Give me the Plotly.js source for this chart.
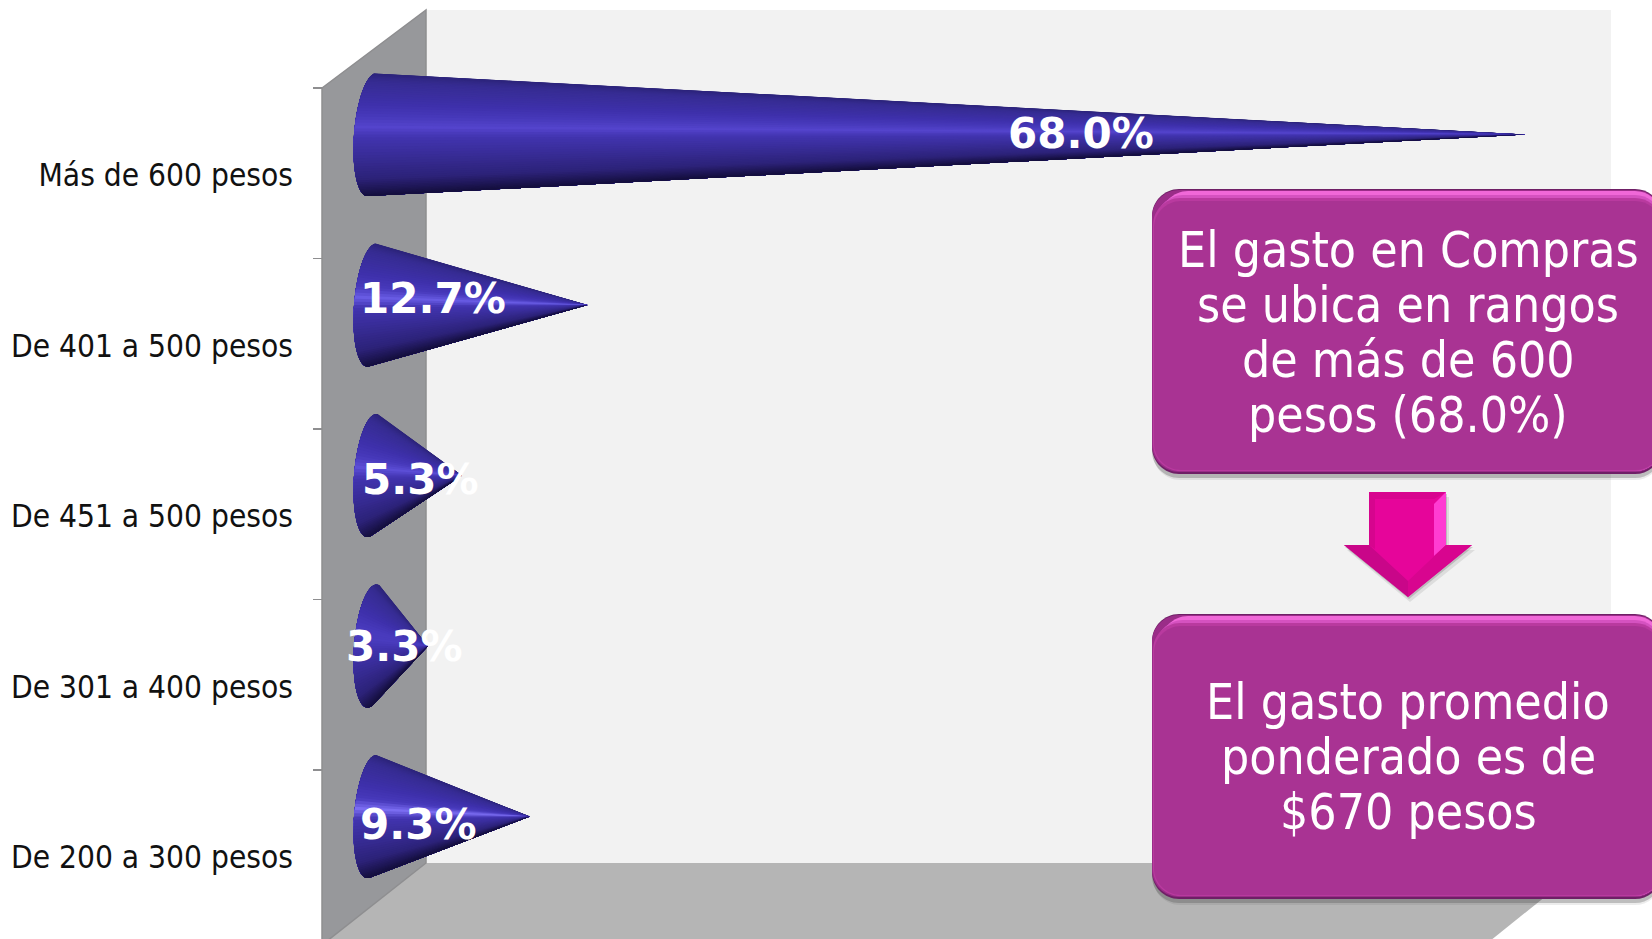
<!DOCTYPE html>
<html>
<head>
<meta charset="utf-8">
<script src="https://cdn.plot.ly/plotly-3.0.1.min.js"></script>
<style>html,body{margin:0;padding:0;background:#fff;overflow:hidden}#chart{width:1652px;height:939px}</style>
</head>
<body>
<div id="chart"></div>
<script>
// ---- data ----
const categories = ["Más de 600 pesos", "De 401 a 500 pesos", "De 451 a 500 pesos", "De 301 a 400 pesos", "De 200 a 300 pesos"];
const values = [68.0, 12.7, 5.3, 3.3, 9.3];
const valueLabels = ["68.0%", "12.7%", "5.3%", "3.3%", "9.3%"];
const box1Lines = ["El gasto en Compras", "se ubica en rangos", "de más de 600", "pesos (68.0%)"];
const box2Lines = ["El gasto promedio", "ponderado es de", "$670 pesos"];

// ---- layout helpers (page pixels) ----
const W = 1652, H = 939;
const px = x => x / W, py = y => 1 - y / H;
const X0 = 372, XK = 16.96;            // pixel of value 0, pixels per unit
const BAND = 170.5, FIRST = 173.25;    // category band size, centre of first band
const xRange = [(0 - X0) / XK, (W - X0) / XK];
const yRange = [(H - FIRST) / BAND, (0 - FIRST) / BAND];
const LABEL_DROP = 2 / BAND;           // tick labels sit slightly below the band centre

// cone look
const DEPTH = -0.227, HALF_H = 0.361;     // in category bands
const BASE_A = 18 / XK, BASE_TILT = 4.5 / XK; // in value units
const LAYERS = 64;
const conePeaks = [[84, 68, 204], [104, 92, 228], [92, 78, 214], [74, 60, 190], [124, 110, 242]];
function rampStops(peak) {
  return [
    [0.00, [44, 36, 122]], [0.07, [54, 44, 146]], [0.25, [62, 48, 170]], [0.36, [72, 58, 188]],
    [0.44, peak], [0.52, [66, 52, 176]], [0.68, [56, 44, 150]], [0.86, [44, 34, 120]], [1.00, [20, 14, 60]]
  ];
}
function ramp(s, stops) {
  s = Math.min(1, Math.max(0, s));
  for (let i = 1; i < stops.length; i++) {
    if (s <= stops[i][0]) {
      const a = stops[i - 1], b = stops[i], t = (s - a[0]) / (b[0] - a[0]);
      return "rgb(" + a[1].map((c, k) => Math.round(c + (b[1][k] - c) * t)).join(",") + ")";
    }
  }
  return "rgb(20,14,60)";
}
function basePoint(i, deg) {
  const f = deg * Math.PI / 180;
  return [-BASE_A * Math.cos(f) + BASE_TILT * Math.sin(f), i + DEPTH - HALF_H * Math.sin(f)];
}
// angle of the ellipse point where the line from the tip touches it
function tangentDeg(i, v, lo, hi, sign) {
  let best = lo, bestSlope = -Infinity;
  for (let d = lo; d <= hi; d += 0.5) {
    const p = basePoint(i, d);
    const slope = sign * (p[1] - (i + DEPTH)) / (v - p[0]);
    if (slope > bestSlope) { bestSlope = slope; best = d; }
  }
  return best;
}

const hiddenBars = yName => ({
  type: "bar", orientation: "h", y: categories, x: values, xaxis: "x", yaxis: yName,
  marker: {opacity: 0}, hoverinfo: "skip", showlegend: false
});
const traces = [hiddenBars("y"), hiddenBars("y3")];
values.forEach((v, i) => {
  const top = tangentDeg(i, v, 0, 179, -1), bot = tangentDeg(i, v, -179, 0, 1);
  const stops = rampStops(conePeaks[i]);
  // painted as nested layers, each covering the rest of the cone below the previous edge
  for (let k = 0; k < LAYERS; k++) {
    const u = k / LAYERS;
    const start = top + (bot - top) * u;
    const xs = [v], ys = [i + DEPTH];
    for (let d = start; d >= bot - 1e-6; d -= 2) {
      const p = basePoint(i, d); xs.push(p[0]); ys.push(p[1]);
    }
    const pe = basePoint(i, bot); xs.push(pe[0], v); ys.push(pe[1], i + DEPTH);
    const s = (1 - Math.cos(Math.PI * (u + 0.5 / LAYERS))) / 2;
    traces.push({
      type: "scatter", mode: "lines", xaxis: "x", yaxis: "y2", fill: "toself", fillcolor: ramp(s, stops),
      x: xs, y: ys, line: {width: 0}, hoverinfo: "skip", showlegend: false
    });
  }
});

// ---- decoration ----
function poly(pts, fill, line) {
  return {type: "path", xref: "paper", yref: "paper", layer: "below",
    path: "M" + pts.map(p => px(p[0]) + "," + py(p[1])).join("L") + "Z",
    fillcolor: fill, line: line || {width: 0}};
}
function rrect(l, t, r, b, rad, fill) {
  const P = (x, y) => px(x) + "," + py(y), c = rad * 0.45;
  return {type: "path", xref: "paper", yref: "paper", layer: "above", fillcolor: fill, line: {width: 0},
    path: "M" + P(l + rad, t) + "L" + P(r - rad, t) + "C" + P(r - c, t) + " " + P(r, t + c) + " " + P(r, t + rad) +
      "L" + P(r, b - rad) + "C" + P(r, b - c) + " " + P(r - c, b) + " " + P(r - rad, b) + "L" + P(l + rad, b) +
      "C" + P(l + c, b) + " " + P(l, b - c) + " " + P(l, b - rad) + "L" + P(l, t + rad) + "C" + P(l, t + c) + " " + P(l + c, t) + " " + P(l + rad, t) + "Z"};
}
function box(t, b) {
  const l = 1152, r = 1662, R = 27;
  return [
    rrect(l + 1, t + 6, r, b + 6, R, "rgba(70,70,70,0.10)"),
    rrect(l, t + 3, r, b + 4, R, "rgba(70,70,70,0.28)"),
    rrect(l, t, r, b, R, "#6f1f66"),
    rrect(l, t + 1, r, b - 2, R, "#9a2d88"),
    rrect(l + 9, t + 2, r, b - 3, R, "#f068d8"),
    rrect(l + 4, t + 6, r, b - 3, R, "#d552c0"),
    rrect(l + 1, t + 9, r, b - 3, R, "#b93a9f"),
    rrect(l + 2, t + 12, r, b - 4, R, "#a93393")
  ];
}
function above(s) { s.layer = "above"; return s; }
const wallLine = {color: "#8e8e90", width: 1.5};
const shapes = [
  poly([[426, 10], [1611, 10], [1611, 863], [426, 863]], "#f2f2f2"),
  poly([[426, 863], [1587, 863], [1485, 945], [322, 945]], "#b5b5b5"),
  poly([[322, 88], [426, 10], [426, 863], [322, 945]], "#97989b", wallLine),
  ...box(189, 474),
  ...box(614, 899),
  // arrow
  above(poly([[1372, 497], [1449, 497], [1449, 550], [1475, 550], [1410, 602], [1347, 550], [1372, 550]], "rgba(70,70,70,0.12)")),
  above(poly([[1370, 494], [1447, 494], [1447, 547], [1473, 547], [1409, 599], [1345, 547], [1370, 547]], "rgba(70,70,70,0.22)")),
  above(poly([[1369, 492], [1446, 492], [1446, 545], [1472, 545], [1408, 597], [1344, 545], [1369, 545]], "#e6059a")),
  above(poly([[1369, 492], [1446, 492], [1434, 499], [1375, 499]], "#d8048f")),
  above(poly([[1369, 492], [1375, 499], [1375, 549], [1369, 545]], "#d6058e")),
  above(poly([[1446, 492], [1446, 545], [1434, 556], [1434, 504]], "#ff3cd2")),
  above(poly([[1344, 545], [1369, 545], [1408, 581], [1408, 597]], "#c90689")),
  above(poly([[1472, 545], [1446, 545], [1408, 581], [1408, 597]], "#d8058f"))
];

// ---- text ----
const ann = [];
const TXT = '"DejaVu Sans Condensed", "DejaVu Sans", sans-serif';
function text(str, x, y, size, bold) {
  ann.push({xref: "paper", yref: "paper", x: px(x), y: py(y), xanchor: "center", yanchor: "middle",
    text: bold ? "<b>" + str + "</b>" : str, showarrow: false,
    font: {family: bold ? '"DejaVu Sans", sans-serif' : TXT, size: size, color: "#ffffff"}});
}
const labelX = [1081, 433, 420, 404, 418], labelY = [133, 298, 479, 646, 824];
valueLabels.forEach((t, i) => text(t, labelX[i], labelY[i], 42, true));
const box1Y = [250, 305, 360, 415], box2Y = [702, 757, 812];
box1Lines.forEach((t, i) => text(t, 1408, box1Y[i], 49.5));
box2Lines.forEach((t, i) => text(t, 1408, box2Y[i], 49.5));

const layout = {
  width: W, height: H, margin: {l: 0, r: 0, t: 0, b: 0, pad: 0},
  paper_bgcolor: "#ffffff", plot_bgcolor: "rgba(0,0,0,0)", showlegend: false,
  xaxis: {type: "linear", range: xRange, visible: false, fixedrange: true},
  yaxis: {
    type: "category", categoryorder: "array", categoryarray: categories, range: yRange,
    anchor: "free", position: px(322), side: "left", tickson: "boundaries",
    ticks: "outside", ticklen: 9, tickwidth: 1.5, tickcolor: "#8e8e90",
    showline: false, showgrid: false, zeroline: false, showticklabels: false, fixedrange: true
  },
  yaxis2: {type: "linear", range: yRange, overlaying: "y", visible: false, fixedrange: true},
  yaxis3: {
    type: "category", categoryorder: "array", categoryarray: categories,
    range: yRange.map(r => r - LABEL_DROP), overlaying: "y",
    anchor: "free", position: px(322), side: "left", ticks: "",
    showline: false, showgrid: false, zeroline: false, ticklabelstandoff: 29,
    tickfont: {family: TXT, size: 31.4, color: "#111111"}, fixedrange: true
  },
  shapes: shapes, annotations: ann
};
Plotly.newPlot("chart", traces, layout, {staticPlot: true, displayModeBar: false});
</script>
</body>
</html>
